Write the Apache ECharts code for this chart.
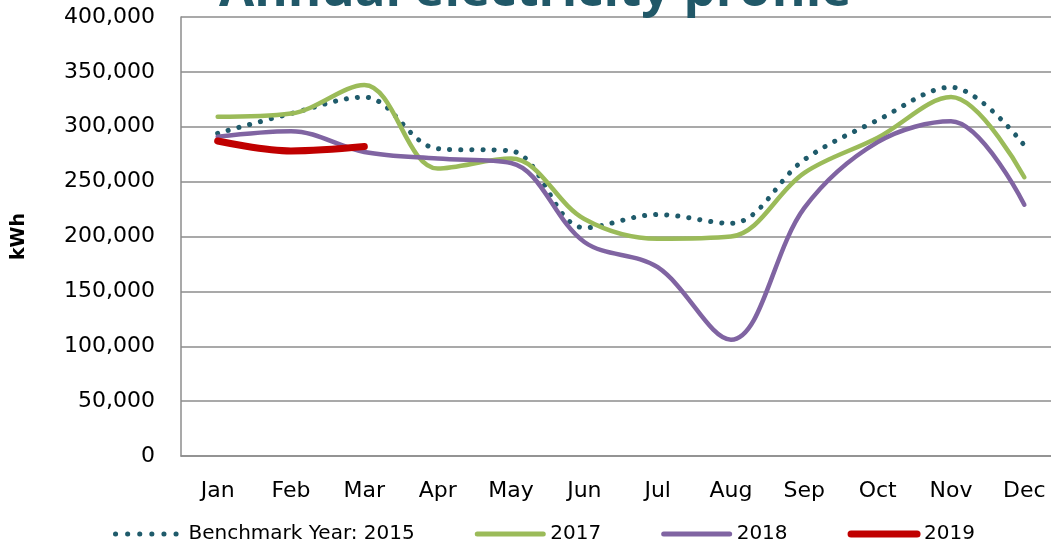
<!DOCTYPE html>
<html>
<head>
<meta charset="utf-8">
<script src="https://cdn.jsdelivr.net/npm/echarts@6/dist/echarts.min.js"></script>
<style>
  html, body { margin: 0; padding: 0; background: #fff; }
  #chart { width: 1051px; height: 553px; }
</style>
</head>
<body>
<div id="chart"></div>
<script>
const months = ['Jan', 'Feb', 'Mar', 'Apr', 'May', 'Jun', 'Jul', 'Aug', 'Sep', 'Oct', 'Nov', 'Dec']
const benchmark2015 = [294000, 312000, 327000, 280000, 278000, 208000, 220000, 212000, 270000, 306000, 336000, 283000]
const y2017 = [309000, 312000, 338000, 262000, 271000, 216000, 198000, 200000, 258000, 290000, 327000, 254000]
const y2018 = [291000, 296000, 277000, 271000, 267000, 195000, 172000, 106000, 226000, 286000, 305000, 229000]
const y2019 = [287000, 278000, 282000]

const labelFont = 'DejaVu Sans'
const colors = {
  bench: '#1f5b6b',
  y2017: '#9bbb59',
  y2018: '#8064a2',
  y2019: '#c00000'
}

const chart = echarts.init(document.getElementById('chart'))
const option = {
  animation: false,
  title: {
    text: 'Annual electricity profile',
    left: 214,
    top: -39,
    textStyle: {
      color: '#215868',
      fontSize: 51,
      fontWeight: 'bold',
      fontFamily: 'Open Sans'
    }
  },
  grid: {
    left: 181,
    top: 17,
    width: 880,
    bottom: 97,
    outerBoundsMode: 'none',
    containLabel: false
  },
  legend: {
    bottom: 4,
    left: 108,
    itemWidth: 66,
    itemHeight: 14,
    itemGap: 60,
    itemStyle: { opacity: 0 },
    textStyle: {
      color: '#000',
      fontSize: 20,
      fontFamily: labelFont,
      padding: [0, 0, 0, 2]
    },
    data: [
      { name: 'Benchmark Year: 2015', lineStyle: { color: colors.bench, width: 5, type: [0.1, 12], cap: 'round' } },
      { name: '2017', lineStyle: { color: colors.y2017, width: 5, cap: 'round' } },
      { name: '2018', lineStyle: { color: colors.y2018, width: 5, cap: 'round' } },
      { name: '2019', lineStyle: { color: colors.y2019, width: 7, cap: 'round' } }
    ]
  },
  xAxis: {
    type: 'category',
    data: months,
    boundaryGap: true,
    axisLine: { lineStyle: { color: '#8c8c8c', width: 1.5 } },
    axisTick: { show: false },
    axisLabel: {
      color: '#000',
      fontSize: 22,
      fontFamily: labelFont,
      margin: 24
    }
  },
  yAxis: {
    type: 'value',
    min: 0,
    max: 400000,
    interval: 50000,
    name: 'kWh',
    nameLocation: 'middle',
    nameGap: 152,
    nameRotate: 90,
    nameTextStyle: {
      color: '#000',
      fontSize: 19,
      fontWeight: 'bold',
      fontFamily: labelFont
    },
    axisLine: { show: true, lineStyle: { color: '#8c8c8c', width: 1.5 } },
    axisTick: { show: false },
    axisLabel: {
      color: '#000',
      fontSize: 22,
      fontFamily: labelFont,
      margin: 26,
      formatter: v => v.toLocaleString('en-US')
    },
    splitLine: { lineStyle: { color: '#8c8c8c', width: 1.5 } }
  },
  series: [
    {
      name: 'Benchmark Year: 2015',
      type: 'line',
      smooth: 0.35,
      symbol: 'none',
      data: benchmark2015,
      lineStyle: { color: colors.bench, width: 5, type: [0.1, 11], cap: 'round' },
      itemStyle: { color: colors.bench }
    },
    {
      name: '2017',
      type: 'line',
      smooth: 0.35,
      symbol: 'none',
      data: y2017,
      lineStyle: { color: colors.y2017, width: 4.5, cap: 'round' },
      itemStyle: { color: colors.y2017 }
    },
    {
      name: '2018',
      type: 'line',
      smooth: 0.35,
      symbol: 'none',
      data: y2018,
      lineStyle: { color: colors.y2018, width: 4.5, cap: 'round' },
      itemStyle: { color: colors.y2018 }
    },
    {
      name: '2019',
      type: 'line',
      smooth: 0.35,
      symbol: 'none',
      data: y2019,
      lineStyle: { color: colors.y2019, width: 7, cap: 'round' },
      itemStyle: { color: colors.y2019 }
    }
  ]
}
chart.setOption(option)
window.addEventListener('resize', () => chart.resize())
</script>
</body>
</html>
